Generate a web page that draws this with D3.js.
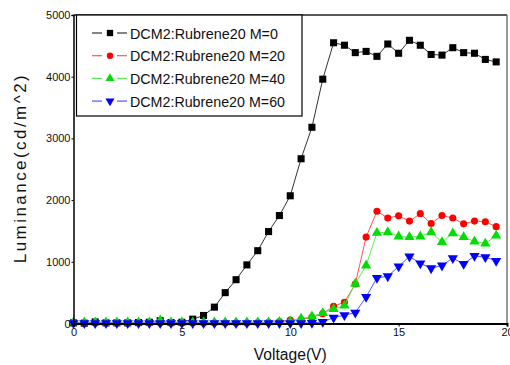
<!DOCTYPE html>
<html><head><meta charset="utf-8">
<script src="https://cdn.jsdelivr.net/npm/d3@7"></script>
<style>body{margin:0;background:#fff}svg{display:block}text{font-family:"Liberation Sans",Arial,sans-serif}</style>
</head><body><svg id="c" width="510" height="365"></svg>
<script>
const voltage = [0,0.5,1,1.5,2,2.5,3,3.5,4,4.5,5,5.5,6,6.5,7,7.5,8,8.5,9,9.5,10,10.5,11,11.5,12,12.5,13,13.5,14,14.5,15,15.5,16,16.5,17,17.5,18,18.5,19,19.5];
const m0  = [10,5,25,10,10,10,15,20,45,15,20,70,130,265,500,710,950,1180,1490,1750,2070,2670,3180,3960,4550,4510,4390,4410,4330,4530,4380,4590,4510,4360,4350,4470,4390,4380,4280,4240];
const m20 = [10,10,10,10,10,10,10,10,10,10,10,10,10,10,10,10,10,15,20,30,55,65,100,160,280,345,640,1400,1820,1710,1745,1660,1780,1620,1750,1710,1615,1660,1650,1570];
const m40 = [20,20,20,20,20,20,20,20,50,20,20,20,20,20,20,20,20,20,20,25,35,80,115,170,235,290,645,940,1470,1480,1410,1400,1410,1480,1320,1460,1400,1330,1295,1425];
const m60 = [5,5,5,5,5,5,5,5,5,5,5,5,5,5,5,5,5,5,5,5,5,5,10,25,95,135,175,430,740,765,925,1085,975,895,940,1060,965,1095,1075,1015];
const seriesNames = ["DCM2:Rubrene20 M=0","DCM2:Rubrene20 M=20","DCM2:Rubrene20 M=40","DCM2:Rubrene20 M=60"];
const xTicks = [0,5,10,15,20];
const yTicks = [0,1000,2000,3000,4000,5000];

const colors = ["#000000","#ff0000","#00dd00","#0000ff"];
const lineColors = ["#333333","#ff5555","#55ee55","#5555ff"];
const symbols = [d3.symbolSquare, d3.symbolCircle, d3.symbolTriangle, d3.symbolTriangle];
const symSize = [50, 40, 45, 45];
const rot = [0,0,0,180];
const data = [m0,m20,m40,m60];

const svg = d3.select("#c");
const L=73.5, R=507, T=15, B=323.5;
const x = d3.scaleLinear().domain([0,20]).range([L,R]);
const y = d3.scaleLinear().domain([0,5000]).range([B,T]);

// frame
svg.append("line").attr("x1",L).attr("x2",R).attr("y1",T).attr("y2",T).attr("stroke","#222").attr("stroke-width",1.5);
svg.append("line").attr("x1",R).attr("x2",R).attr("y1",T).attr("y2",B).attr("stroke","#555").attr("stroke-width",1.2);

// series
const line = d3.line().x((d,i)=>x(voltage[i])).y(d=>y(d));
data.forEach((vals,k)=>{
  svg.append("path").datum(vals).attr("d",line).attr("fill","none")
    .attr("stroke",lineColors[k]).attr("stroke-width",1);
  svg.append("g").selectAll("path").data(vals).join("path")
    .attr("d",d3.symbol().type(symbols[k]).size(symSize[k]))
    .attr("transform",(d,i)=>`translate(${x(voltage[i])},${y(d)}) rotate(${rot[k]})`)
    .attr("fill",colors[k]);
});

// axes
const xAxis = d3.axisBottom(x).tickValues(xTicks).tickSize(3).tickFormat(d3.format("d"));
const gx = svg.append("g").attr("transform",`translate(0,${B})`).call(xAxis);
gx.select(".domain").attr("stroke","#000").attr("stroke-width",2);
gx.selectAll("text").attr("font-size",11).attr("fill","#111").attr("dy","0.55em");
const yAxis = d3.axisLeft(y).tickValues(yTicks).tickSize(2).tickPadding(1).tickFormat(d3.format("d"));
const gy = svg.append("g").attr("transform",`translate(${L},0)`).call(yAxis);
gy.select(".domain").attr("stroke","#000").attr("stroke-width",1.5);
gy.selectAll("text").attr("font-size",11).attr("fill","#111");

// axis titles
svg.append("text").attr("x",(L+R)/2).attr("y",360).attr("text-anchor","middle")
  .attr("font-size",16).attr("fill","#111").attr("textLength",73).attr("lengthAdjust","spacingAndGlyphs").text("Voltage(V)");
svg.append("text").attr("transform",`translate(26,${(T+B)/2}) rotate(-90)`).attr("text-anchor","middle")
  .attr("font-size",17).attr("fill","#111").attr("textLength",188).attr("lengthAdjust","spacing").text("Luminance(cd/m^2)");

// legend
const lg = svg.append("g");
lg.append("rect").attr("x",76.5).attr("y",15).attr("width",225.5).attr("height",101).attr("fill","#fff").attr("stroke","#000").attr("stroke-width",1.2);
seriesNames.forEach((name,k)=>{
  const cy = 33 + k*22.7;
  lg.append("line").attr("x1",92).attr("x2",102).attr("y1",cy).attr("y2",cy).attr("stroke",lineColors[k]).attr("stroke-width",1.2);
  lg.append("line").attr("x1",117).attr("x2",127).attr("y1",cy).attr("y2",cy).attr("stroke",lineColors[k]).attr("stroke-width",1.2);
  lg.append("path").attr("d",d3.symbol().type(symbols[k]).size(symSize[k]*0.8)())
    .attr("transform",`translate(110,${cy}) rotate(${rot[k]})`).attr("fill",colors[k]);
  lg.append("text").attr("x",130).attr("y",cy+5.5).attr("font-size",15.5).attr("fill","#111")
    .attr("textLength",name.length>18?155:148).attr("lengthAdjust","spacingAndGlyphs").text(name);
});
</script></body></html>
